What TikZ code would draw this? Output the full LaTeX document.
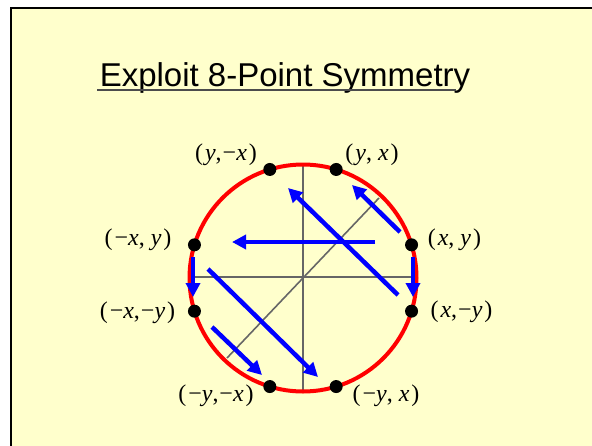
\documentclass[tikz,border=0pt]{standalone}
\usepackage{fontspec}
\setmainfont{Liberation Serif}
\newfontfamily\titlefont{Liberation Sans}
\usetikzlibrary{arrows.meta}
\definecolor{slide}{RGB}{255,255,204}
\newcommand{\vx}{\textit{x}}
\newcommand{\vy}{\textit{y}}
\newcommand{\crd}[2]{(\kern2pt#1,#2\kern2pt)}

\begin{document}
\begin{tikzpicture}[
  x=1pt, y=-1pt,
  dot/.style={circle, fill=black, inner sep=0pt, minimum size=13pt},
  lbl/.style={font=\fontsize{24}{27}\selectfont, inner sep=0pt},
  rim/.style={draw=red, line width=4pt},
  axis/.style={draw=black!60, line width=1.6pt},
  sym/.style={-{Triangle[length=14pt, width=14pt]}, blue, line width=4.5pt},
]

% ---- slide --------------------------------------------------------------
\useasboundingbox (0,0) rectangle (592,445);
\clip (0,0) rectangle (592,445);
\fill[white] (0,0) rectangle (592,445);
\draw[fill=slide, line width=2.5pt] (11.2,8) rectangle (640,480);

\node[font=\titlefont\fontsize{33}{38}\selectfont, anchor=base] (title)
  at (285,86) {Exploit 8-Point Symmetry};
\draw[black!70, line width=1.5pt] (97,90) -- (456,90);

% ---- circle and axes ----------------------------------------------------
\begin{scope}[shift={(303,278)}]
\draw[axis] (-113.5,-1) -- (113.5,-1);
\draw[axis] (0,-113.5) -- (0,113.5);
\draw[axis] (-76,80) -- (76,-80);
\draw[rim] (0,0) circle[radius=113.5];

% ---- arrows -------------------------------------------------------------
\coordinate (a1) at (97,-46);   \coordinate (b1) at (49,-93);
\coordinate (a2) at (95,17);    \coordinate (b2) at (-15,-90);
\coordinate (a3) at (72,-36);   \coordinate (b3) at (-71,-36);
\coordinate (a4) at (110,-21);  \coordinate (b4) at (110,19);
\coordinate (a5) at (-110,-21); \coordinate (b5) at (-110,19);
\coordinate (a6) at (-95,-9);   \coordinate (b6) at (15,99);
\coordinate (a7) at (-91,49);   \coordinate (b7) at (-41,97);
\foreach \i in {1,...,7}
  \draw[sym] (a\i) -- (b\i);

% ---- the eight points ---------------------------------------------------
\node[dot] (pxy)   at (-17:113.5)  {};
\node[dot] (pyx)   at (-73:113.5)  {};
\node[dot] (pymx)  at (-107:113.5) {};
\node[dot] (pmxy)  at (-163:113.5) {};
\node[dot] (pmxmy) at (163:113.5)  {};
\node[dot] (pmymx) at (107:113.5)  {};
\node[dot] (pmyx)  at (73:113.5)   {};
\node[dot] (pxmy)  at (17:113.5)   {};
\end{scope}

% ---- labels -------------------------------------------------------------
\node[lbl] (lxy)   at (454.5,240) {\crd{\vx}{\ \vy}};
\node[lbl] (lyx)   at (372,155)   {\crd{\vy}{\ \vx}};
\node[lbl] (lymx)  at (226,155)   {\crd{\vy}{\kern1pt−\vx}};
\node[lbl] (lmxy)  at (138,240)   {\crd{−\vx}{\ \vy}};
\node[lbl] (lmxmy) at (137.5,313) {\crd{−\vx}{\kern1pt−\vy}};
\node[lbl] (lmymx) at (216,396)   {\crd{−\vy}{\kern1pt−\vx}};
\node[lbl] (lmyx)  at (386,396)   {\crd{−\vy}{\ \vx}};
\node[lbl] (lxmy)  at (461.5,312) {\crd{\vx}{\kern1pt−\vy}};

\end{tikzpicture}
\end{document}
